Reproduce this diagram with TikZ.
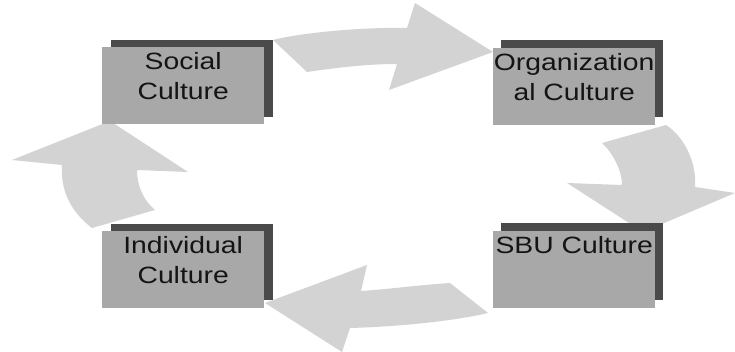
\documentclass[tikz,border=0pt]{standalone}
\usepackage{fontspec}
\setmainfont[FakeStretch=1.2]{Liberation Sans}
\definecolor{arrowgrey}{HTML}{D3D3D3}
\definecolor{boxgrey}{HTML}{A8A8A8}
\definecolor{shadowgrey}{HTML}{4A4A4A}
\definecolor{textgrey}{HTML}{141414}
\begin{document}
\begin{tikzpicture}[x=1pt,y=-1pt,
  cyclearrow/.style={fill=arrowgrey,draw=none},
  culturebox/.style={rectangle,fill=boxgrey,draw=none,inner sep=0pt,
    minimum width=162pt,minimum height=77pt,anchor=north west},
  boxshadow/.style={fill=shadowgrey,draw=none},
  boxtext/.style={anchor=north,inner sep=0pt,align=center,text=textgrey,
    font=\fontsize{23.6}{30}\selectfont}]
\useasboundingbox (0,0) rectangle (735,352);

% curved block arrows running clockwise round the cycle
\fill[cyclearrow] (273,40) .. controls (300,33) and (360,27) .. (407,28)
  -- (415,3) -- (493,52) -- (389,90) -- (397,64)
  .. controls (365,64) and (335,68) .. (307,72) -- cycle;
\fill[cyclearrow] (602,143) -- (666,125) .. controls (682,135) and (697,160) .. (695,187)
  -- (735,193) -- (643,232) -- (567,183) -- (622,185)
  .. controls (622,170) and (612,152) .. (602,143) -- cycle;
\fill[cyclearrow] (488,313) .. controls (450,322) and (390,327) .. (350,328)
  -- (342,352) -- (265,303) -- (367,265) -- (361,291)
  .. controls (390,289) and (420,285) .. (450,283) -- cycle;
\fill[cyclearrow] (155,210) .. controls (143,200) and (137,185) .. (137,170)
  -- (188,172) -- (110,121) -- (12,160) -- (62,165)
  .. controls (60,195) and (75,215) .. (92,228) -- cycle;

% shadows behind the boxes
\fill[boxshadow] (111,40) rectangle (273,117);
\fill[boxshadow] (501,40) rectangle (663,117);
\fill[boxshadow] (501,223) rectangle (663,300);
\fill[boxshadow] (111,224) rectangle (273,300);

% culture boxes
\node[culturebox] (social) at (102,47) {};
\node[culturebox] (org) at (493,48) {};
\node[culturebox] (sbu) at (493,231) {};
\node[culturebox] (indiv) at (102,231) {};

\node[boxtext] (socialtext) at ([yshift=-5.5pt]social.north) {Social\\Culture};
\node[boxtext] (orgtext) at ([yshift=-5.5pt]org.north) {Organization\\al Culture};
\node[boxtext] (sbutext) at ([yshift=-5.5pt]sbu.north) {SBU Culture};
\node[boxtext] (indivtext) at ([yshift=-5.5pt]indiv.north) {Individual\\Culture};
\end{tikzpicture}
\end{document}
